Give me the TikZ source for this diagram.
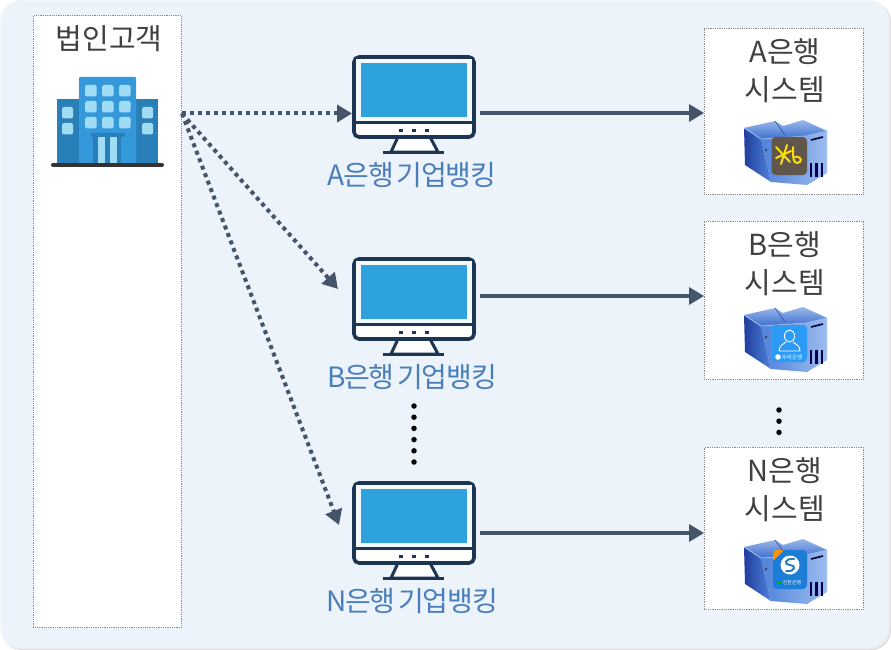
\documentclass[tikz,border=0pt]{standalone}
\usepackage{fontspec}
\setmainfont{Noto Sans CJK KR}
\usetikzlibrary{arrows.meta,calc}
\definecolor{panel}{HTML}{ECF3FA}
\definecolor{arrowc}{HTML}{44546A}
\definecolor{navy}{HTML}{1B3553}
\definecolor{scr}{HTML}{2DA2DC}
\definecolor{lbl}{HTML}{4A7EBB}
\definecolor{txt}{HTML}{404040}
\definecolor{bmid}{HTML}{3498DB}
\definecolor{bside}{HTML}{2980B9}
\definecolor{bwin}{HTML}{A0DDF5}
\definecolor{srvdark}{HTML}{1F3D9C}
\definecolor{srvmid}{HTML}{4F82DA}
\definecolor{srvlight}{HTML}{9DBCEE}
\definecolor{srvlid}{HTML}{9AB8EA}
\definecolor{srvlid2}{HTML}{3F70D0}
\tikzset{
 x=1pt,y=-1pt,
 boxn/.style={draw=gray!90,densely dotted,line width=.8pt,fill=white,inner sep=0,anchor=north west},
 tt/.style={text=txt,font=\fontsize{29}{38}\selectfont,align=center,inner sep=0},
 ml/.style={text=lbl,font=\fontsize{28}{30}\selectfont\addfontfeature{LetterSpace=-4},inner sep=0},
 flow/.style={draw=arrowc,line width=3.4pt,-{Triangle[length=15pt,width=17pt]}},
 dflow/.style={flow,line width=4pt,dash pattern=on 4pt off 4pt},
 monframe/.style={draw=navy,line width=3.6pt,fill=white,rounded corners=5pt},
 dots/.style={draw=black,line width=5.5pt,line cap=round,dash pattern=on 0pt off 11.2pt},
 win/.style={fill=bwin,rounded corners=1.5pt},
 pics/monitor/.style={code={
   \draw[navy,line width=3pt,fill=white,line join=round] (-16,40) -- (-23,55) -- (24,55) -- (16,40);
   \draw[navy,line width=3.2pt] (-31,55.5) -- (30,55.5);
   \draw[monframe] (-60,-40) rectangle (60,40);
   \fill[panel!50!white] (-58,-38) rectangle (58,25);
   \fill[scr] (-53,-34) rectangle (53,20);
   \draw[navy,line width=3pt] (-60,25.5) -- (60,25.5);
   \foreach \u in {-13,0,13} \fill[navy] (\u-2.2,32) rectangle (\u+2.2,35);
 }},
 pics/server/.style={code={
   \shade[left color=srvdark,right color=srvmid] (1,7) -- (18,18) -- (28,61) -- (2,44) -- cycle;
   \shade[left color=srvmid,right color=srvlight] (18,18) -- (63,15) -- (84,10) -- (84,52) -- (64,64) -- (28,61) -- cycle;
   \shade[top color=srvlid,bottom color=srvlid2] (1,7) -- (32,0) -- (40,5) -- (60,-1) -- (84,10) -- (63,15) -- (18,18) -- cycle;
   \draw[srvdark,line width=.5pt] (32,0) -- (42,14);
   \draw[srvlight,line width=.8pt] (1,7) -- (18,18) -- (63,15) -- (84,10);
   \fill[black!75] (23,29) circle (1.3);
   \draw[black!80!blue,line width=1.6pt] (68,19) -- (80,16);
   \foreach \u in {68,73.5,79} \draw[black!70!blue,line width=2.8pt] (\u,56) -- (\u,42);
 }},
 pics/bkgA/.style={code={
   \fill[rounded corners=4pt,fill={rgb,255:red,97;green,86;blue,76}] (28.5,16) rectangle (64,54);
   \draw[yellow!80!orange,line width=2pt,line cap=round]
      (33,26) -- (47,41) (44,24) -- (38,43) (33,37) -- (48,30)
      (50,26) .. controls (50,36) and (50,42) .. (54,42) .. controls (59,42) and (60,35) .. (52,36);
 }},
 pics/bkgB/.style={code={
   \fill[rounded corners=4pt,fill={rgb,255:red,44;green,155;blue,245}] (29,17) rectangle (64,54);
   \draw[white,line width=.9pt] (46.5,28) ellipse (5 and 6);
   \draw[white,line width=.9pt] (36,43) .. controls (36,37) and (41,36) .. (43,34) (50,34) .. controls (52,36) and (57,37) .. (57,43) -- (36,43);
   \fill[white] (35,49) circle (2.8);
   \node[text=white,font=\fontsize{5.5}{6}\selectfont,inner sep=0] at (49,49.5) {우리은행};
 }},
 pics/bkgN/.style={code={
   \fill[rounded corners=4pt,fill={rgb,255:red,27;green,125;blue,214}] (30,10) rectangle (64,49);
   \fill[rounded corners=2pt,fill=orange!85!yellow] (30,21) -- (30,12) -- (32,10) -- (41,10) -- cycle;
   \fill[white] (47,25) circle (9.5);
   \draw[bside,line width=2pt,line cap=round] (51,19) .. controls (41,18) and (41,25) .. (47,25) .. controls (53,25) and (53,32) .. (43,31);
   \node[text=white,font=\fontsize{5}{6}\selectfont,inner sep=0] at (49,42.5) {신한은행};
   \fill[green!70!black] (36,42.5) circle (1.8);
 }}
}
\begin{document}
\begin{tikzpicture}
\useasboundingbox (0,0) rectangle (891,650);
\fill[white] (0,0) rectangle (891,650);
\fill[black!14,rounded corners=20pt] (2,2) rectangle (891,650);
\fill[black!7,rounded corners=20pt] (1,1) rectangle (890,649);
\fill[panel,rounded corners=20pt] (0.5,0.5) rectangle (888.5,647.5);

\node[boxn,minimum width=148pt,minimum height=611pt] (corp) at (33,15.5) {};
\node[boxn,minimum width=159pt,minimum height=165pt] (bankA) at (704,28.5) {};
\node[boxn,minimum width=159pt,minimum height=158pt] (bankB) at (704,220.5) {};
\node[boxn,minimum width=159pt,minimum height=162pt] (bankN) at (704,446.5) {};

\node[tt] (corpT) at (109,39) {법인고객};
\node[tt] (bankAT) at (785,71) {A은행\\시스템};
\node[tt] (bankBT) at (785,264) {B은행\\시스템};
\node[tt] (bankNT) at (785,490) {N은행\\시스템};

% building
\fill[bside] (57,99) rectangle (158,163);
\fill[bmid,rounded corners=1pt] (79,77) rectangle (136,163);
\foreach \xx in {85,102,119} \foreach \yy in {85,101,117}
  \fill[win] (\xx,\yy) rectangle ++(11.5,11.5);
\foreach \xx in {62,142} \foreach \yy in {107,123}
  \fill[win] (\xx,\yy) rectangle ++(11,11.5);
\fill[bside,rounded corners=1pt] (90.5,133) rectangle (125,137);
\fill[bside] (93,137) rectangle (121,163);
\fill[bwin] (98,137) rectangle (105,163);
\fill[bwin] (110,137) rectangle (117,163);
\draw[black!80,line width=4pt,line cap=round] (53,165) -- (162,165);

% monitors
\foreach \nm/\yy in {A/97,B/299,N/523} {
  \path (414,\yy) pic {monitor};
  \node[minimum width=125pt,minimum height=85pt,inner sep=0] (mon\nm) at (414,\yy) {};
}
\node[ml] (lblA) at (412,175) {A은행\hspace{-2.5pt} 기업뱅킹};
\node[ml] (lblB) at (412,377) {B은행\hspace{-2.5pt} 기업뱅킹};
\node[ml] (lblN) at (412,601) {N은행\hspace{-2.5pt} 기업뱅킹};

% servers
\path (743,121) pic {server} (743,121) pic {bkgA};
\path (743,308) pic {server} (743,308) pic {bkgB};
\path (743,540) pic {server} (743,540) pic {bkgN};

\coordinate (src) at (182,113.5);
\coordinate (endA) at (352,113.5);
\coordinate (endB) at (338,289);
\coordinate (endN) at (339,525);
\coordinate (outA) at (480,113);
\coordinate (outB) at (480,296);
\coordinate (outN) at (480,533);
\coordinate (inA) at (704,113);
\coordinate (inB) at (704,296);
\coordinate (inN) at (704,533);
\draw[dflow] (src) -- (endA);
\draw[dflow] (src) -- (endB);
\draw[dflow] (src) -- (endN);
\draw[flow] (outA) -- (inA);
\draw[flow] (outB) -- (inB);
\draw[flow] (outN) -- (inN);

\coordinate (d1a) at (414,406);
\coordinate (d1b) at (414,464);
\coordinate (d2a) at (779,410);
\coordinate (d2b) at (779,434);
\draw[dots] (d1a) -- (d1b);
\draw[dots] (d2a) -- (d2b);
\end{tikzpicture}
\end{document}
